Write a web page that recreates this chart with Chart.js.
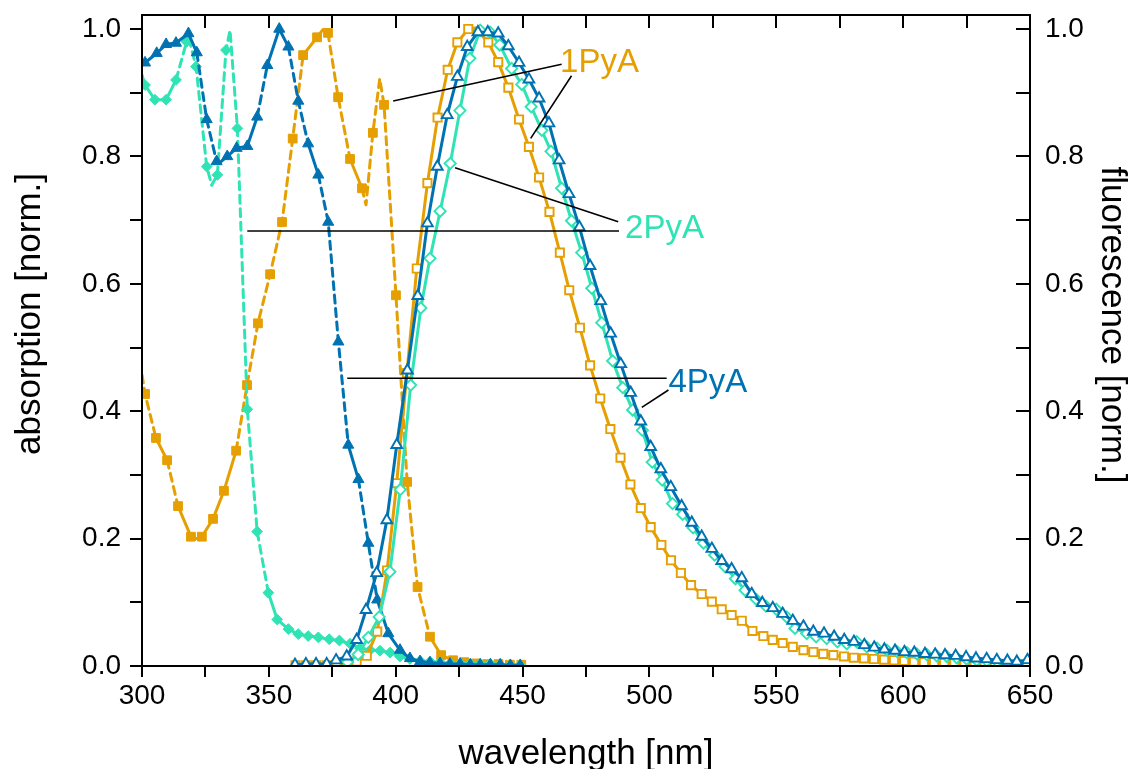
<!DOCTYPE html>
<html><head><meta charset="utf-8">
<script src="https://cdn.jsdelivr.net/npm/chart.js@4.4.1/dist/chart.umd.min.js"></script>
<style>html,body{margin:0;padding:0;background:#fff;overflow:hidden}</style>
</head><body>
<canvas id="c" width="1131" height="769"></canvas>
<script>
// ---------- data ----------
// 1PyA absorption (filled squares, marker points)
const abs1X = [301.2,305.5,309.9,314.2,319.3,323.6,328.0,332.3,337.1,341.4,345.7,350.5,355.2,359.4,363.5,369.0,373.3,377.3,382.0,386.7,391.0,395.4,400.1,404.5,408.6,413.5,417.9,422.6,427.0,431.5,436.0,440.5,445.0,449.5];
const abs1Y = [0.427,0.358,0.323,0.251,0.203,0.203,0.231,0.275,0.338,0.441,0.538,0.615,0.697,0.828,0.959,0.987,0.994,0.893,0.796,0.750,0.837,0.881,0.582,0.289,0.124,0.046,0.017,0.009,0.006,0.004,0.003,0.003,0.002,0.002];
// extra line points (no marker) at curve ends / extrema
const abs1ExX = [300.0,321.5,371.3,388.3,393.7];
const abs1ExY = [0.457,0.200,0.999,0.724,0.922];

// 2PyA absorption (filled diamonds)
const abs2X = [301.2,305.1,309.5,313.4,317.6,321.3,325.5,329.7,333.1,337.6,341.5,345.4,349.8,353.3,357.7,361.6,365.5,369.5,373.8,377.8,382.0,385.9,389.9,393.8,397.8,401.7,405.6,409.6,413.5,417.5,421.4,425.4,429.4,433.3,437.3,441.2,445.2,449.1];
const abs2Y = [0.912,0.889,0.889,0.920,0.980,0.941,0.784,0.771,0.967,0.844,0.403,0.211,0.115,0.073,0.058,0.050,0.047,0.045,0.042,0.040,0.035,0.028,0.025,0.024,0.021,0.015,0.011,0.008,0.007,0.006,0.004,0.004,0.003,0.003,0.003,0.002,0.002,0.002];
const abs2ExX = [300.0,318.5,327.5,334.7];
const abs2ExY = [0.928,0.985,0.755,0.998];

// 4PyA absorption (filled triangles)
const abs4X = [301.2,305.8,309.5,313.4,318.3,321.6,325.5,329.4,333.6,337.3,341.5,345.4,349.4,354.1,357.7,361.6,365.5,369.5,373.4,377.4,381.3,385.3,389.2,392.7,397.1,401.7,405.6,409.6,413.5,417.5,421.4,425.4,429.4,433.3,437.3,441.2,445.2,449.1];
const abs4Y = [0.947,0.962,0.976,0.978,0.993,0.963,0.858,0.792,0.800,0.813,0.816,0.862,0.943,1.000,0.972,0.887,0.820,0.771,0.697,0.509,0.347,0.293,0.193,0.104,0.051,0.025,0.012,0.007,0.005,0.004,0.003,0.003,0.002,0.002,0.002,0.002,0.001,0.001];
const abs4ExX = [300.0,330.3];
const abs4ExY = [0.945,0.789];

// 1PyA fluorescence (open squares)
const em1X = [360.5,364.6,368.6,372.7,376.7,380.4,384.6,388.6,392.7,396.6,400.4,404.4,408.3,412.5,416.5,420.5,424.3,428.6,432.5,436.5,440.4,444.4,448.6,452.5,456.5,460.6,464.7,468.4,472.6,476.6,480.6,484.6,488.6,492.5,496.6,500.5,504.7,508.5,512.4,516.4,520.6,524.6,528.5,532.4,536.4,540.6,544.9,548.6,552.5,556.5,560.7,564.6,568.5,572.5,576.7,580.6,584.6,588.5,592.5,596.4,600.4,604.3,608.2,612.2,616.2,620.2,624.2,628.2,632.2,636.2,640.2,644.2,648.2];
const em1Y = [0.001,0.001,0.001,0.001,0.001,0.002,0.007,0.016,0.054,0.150,0.287,0.460,0.624,0.758,0.861,0.936,0.979,1.000,0.996,0.979,0.948,0.908,0.858,0.815,0.767,0.713,0.649,0.590,0.531,0.472,0.420,0.372,0.327,0.285,0.248,0.218,0.190,0.166,0.146,0.127,0.113,0.101,0.089,0.080,0.071,0.055,0.047,0.041,0.036,0.030,0.025,0.022,0.019,0.017,0.015,0.013,0.012,0.011,0.010,0.009,0.008,0.007,0.006,0.006,0.005,0.005,0.004,0.004,0.004,0.003,0.003,0.003,0.002];

// 2PyA fluorescence (open diamonds)
const em2X = [381.0,385.2,389.2,393.5,397.7,401.8,405.9,409.9,413.5,417.5,421.5,425.3,429.2,433.3,437.2,441.0,445.7,449.7,453.4,457.6,461.2,465.4,469.3,473.3,477.3,481.2,485.5,489.5,493.4,497.2,501.1,505.0,509.1,513.1,517.2,521.3,525.7,529.8,533.9,537.7,542.0,545.9,550.0,554.1,557.4,562.0,565.7,569.9,574.1,577.8,581.7,585.7,589.7,593.6,597.5,601.5,605.4,609.3,613.2,617.2,621.1,625.0,629.0,633.0,637.0,641.0,645.0,649.0];
const em2Y = [0.006,0.018,0.045,0.077,0.148,0.277,0.441,0.562,0.640,0.714,0.789,0.872,0.954,0.998,0.995,0.975,0.938,0.913,0.878,0.841,0.808,0.750,0.699,0.649,0.593,0.539,0.479,0.437,0.402,0.370,0.320,0.292,0.255,0.238,0.217,0.193,0.174,0.156,0.137,0.119,0.105,0.094,0.089,0.077,0.059,0.051,0.046,0.043,0.038,0.035,0.038,0.030,0.028,0.025,0.023,0.021,0.019,0.018,0.016,0.015,0.013,0.011,0.009,0.008,0.007,0.006,0.005,0.004];

// 4PyA fluorescence (open triangles)
const em4X = [360.3,364.6,368.6,372.8,376.5,380.7,384.6,388.3,392.5,396.5,400.4,404.6,408.7,412.5,416.4,420.3,424.3,428.2,432.4,436.3,440.4,444.4,448.6,452.5,456.5,460.4,464.4,468.3,472.4,476.6,480.8,484.7,488.7,492.6,496.6,500.5,504.5,508.4,512.7,516.7,520.6,524.6,528.5,532.4,536.4,540.3,544.5,548.6,552.5,556.5,560.7,564.6,568.8,572.8,576.8,580.6,584.7,588.6,592.6,596.8,600.5,604.4,608.6,612.6,616.5,620.7,624.8,628.7,632.9,636.9,641.1,644.8,649.0];
const em4Y = [0.002,0.003,0.003,0.003,0.009,0.015,0.041,0.088,0.146,0.229,0.347,0.464,0.581,0.695,0.784,0.865,0.925,0.972,0.995,0.995,0.993,0.973,0.947,0.921,0.891,0.852,0.794,0.741,0.689,0.628,0.573,0.522,0.474,0.429,0.384,0.344,0.309,0.281,0.251,0.225,0.203,0.184,0.165,0.152,0.138,0.113,0.099,0.091,0.082,0.071,0.062,0.054,0.051,0.046,0.041,0.038,0.033,0.029,0.026,0.024,0.022,0.021,0.019,0.018,0.017,0.016,0.014,0.012,0.011,0.0094,0.0084,0.0068,0.0094];

// axis ticks and labels
const xTickValues = [300,350,400,450,500,550,600,650];
const xTickLabels = ['300','350','400','450','500','550','600','650'];
const xTickMarks = [300,325,350,375,400,425,450,475,500,525,550,575,600,625,650];
const yTickValues = [0,0.2,0.4,0.6,0.8,1.0];
const yTickLabels = ['0.0','0.2','0.4','0.6','0.8','1.0'];
const yTickMarks = [0,0.1,0.2,0.3,0.4,0.5,0.6,0.7,0.8,0.9,1.0];

const xTitle = 'wavelength [nm]';
const yTitleLeft = 'absorption [norm.]';
const yTitleRight = 'fluorescence [norm.]';

// series labels and their leader lines (in data units)
const seriesNames = ['1PyA','2PyA','4PyA'];
const nameX = [464.8, 490.4, 507.5];
const nameY = [0.9325, 0.6719, 0.4306];
const leaders = [
  [465.4,0.9446,399.0,0.887],
  [469.3,0.9267,453.2,0.8284],
  [487.7,0.6975,423.4,0.7823],
  [341.5,0.6829,488.0,0.6829],
  [380.9,0.4517,506.8,0.4517],
  [507.5,0.4333,497.0,0.4061]
];

// ---------- styling ----------
const ORANGE = '#E69F00', BLUE = '#0072B2', CYAN = '#30E3B4';
const nameColors = [ORANGE, CYAN, BLUE];
const FONT = '"Liberation Sans", Arial, Helvetica, sans-serif';

function pts(xs, ys) { return xs.map((x, i) => ({x: x, y: ys[i]})); }
function merged(xs, ys, ex, ey) { return pts(xs, ys).concat(pts(ex, ey)).sort((a, b) => a.x - b.x); }

// steep segments look dashed, flat ones solid (as in the reference)
const dashSeg = ctx => {
  const dx = Math.abs(ctx.p1.x - ctx.p0.x), dy = Math.abs(ctx.p1.y - ctx.p0.y);
  return dy > 3.5 * dx ? [8, 5.5] : undefined;
};

function absLine(data, color, order) {
  return {data: data, borderColor: color, borderWidth: 3, pointRadius: 0, showLine: true,
          borderDash: [], borderCapStyle: 'round', borderJoinStyle: 'round',
          segment: {borderDash: dashSeg}, order: order, fill: false};
}
function absMarks(data, color, style, r, order) {
  return {data: data, showLine: false, pointStyle: style, pointRadius: r,
          pointBackgroundColor: color, pointBorderColor: color, pointBorderWidth: 1, order: order};
}
function emLine(data, color, style, r, order) {
  return {data: data, borderColor: color, borderWidth: 3, showLine: true, pointStyle: style,
          borderJoinStyle: 'round',
          pointRadius: r, pointBackgroundColor: '#fff', pointBorderColor: color, pointBorderWidth: 1.9,
          order: order, fill: false};
}

const datasets = [
  absLine(merged(abs1X, abs1Y, abs1ExX, abs1ExY), ORANGE, 20),
  absMarks(pts(abs1X, abs1Y), ORANGE, 'rect', 6.2, 19),
  absLine(merged(abs2X, abs2Y, abs2ExX, abs2ExY), CYAN, 18),
  absMarks(pts(abs2X, abs2Y), CYAN, 'rectRot', 5.4, 17),
  absLine(merged(abs4X, abs4Y, abs4ExX, abs4ExY), BLUE, 16),
  absMarks(pts(abs4X, abs4Y), BLUE, 'triangle', 6.4, 15),
  emLine(pts(em1X, em1Y), ORANGE, 'rect', 5.8, 3),
  emLine(pts(em2X, em2Y), CYAN, 'rectRot', 5.6, 2),
  emLine(pts(em4X, em4Y), BLUE, 'triangle', 6.2, 1)
];

const deco = {
  id: 'deco',
  afterDatasetsDraw(chart) {
    const {ctx, scales: {x, y}} = chart;
    ctx.save();
    ctx.strokeStyle = '#000'; ctx.lineWidth = 1.6;
    leaders.forEach(l => {
      ctx.beginPath();
      ctx.moveTo(x.getPixelForValue(l[0]), y.getPixelForValue(l[1]));
      ctx.lineTo(x.getPixelForValue(l[2]), y.getPixelForValue(l[3]));
      ctx.stroke();
    });
    ctx.font = '33px ' + FONT; ctx.textAlign = 'left'; ctx.textBaseline = 'alphabetic';
    seriesNames.forEach((n, i) => {
      ctx.fillStyle = nameColors[i];
      ctx.fillText(n, x.getPixelForValue(nameX[i]), y.getPixelForValue(nameY[i]));
    });
    ctx.restore();
  },
  afterDraw(chart) {
    const {ctx, chartArea: a, scales: {x, y}} = chart;
    ctx.save();
    ctx.strokeStyle = '#000'; ctx.lineWidth = 2;
    ctx.strokeRect(a.left, a.top, a.right - a.left, a.bottom - a.top);
    ctx.beginPath();
    xTickMarks.forEach(v => {
      const px = Math.round(x.getPixelForValue(v));
      ctx.moveTo(px, a.bottom); ctx.lineTo(px, a.bottom + 11);
      ctx.moveTo(px, a.top); ctx.lineTo(px, a.top + 13);
    });
    yTickMarks.forEach(v => {
      const py = Math.round(y.getPixelForValue(v));
      ctx.moveTo(a.left - 12, py); ctx.lineTo(a.left, py);
      ctx.moveTo(a.right - 14, py); ctx.lineTo(a.right, py);
    });
    ctx.stroke();
    ctx.fillStyle = '#000';
    ctx.font = '35px ' + FONT;
    ctx.textAlign = 'center'; ctx.textBaseline = 'alphabetic';
    ctx.fillText(xTitle, (a.left + a.right) / 2, 764);
    ctx.save();
    ctx.translate(40, 314); ctx.rotate(-Math.PI / 2);
    ctx.fillText(yTitleLeft, 0, 0);
    ctx.restore();
    ctx.save();
    ctx.translate(1102, 325); ctx.rotate(Math.PI / 2);
    ctx.fillText(yTitleRight, 0, 0);
    ctx.restore();
    ctx.restore();
  }
};

const tickFont = {size: 28, family: FONT};
const zeroPad = s => { s.paddingTop = 0; s.paddingBottom = 0; s.paddingLeft = 0; s.paddingRight = 0; };

new Chart(document.getElementById('c'), {
  type: 'scatter',
  data: {datasets: datasets},
  options: {
    responsive: false, animation: false, devicePixelRatio: 1, events: [],
    layout: {padding: {top: 15, left: 0, right: 0, bottom: 0}},
    plugins: {legend: {display: false}, tooltip: {enabled: false}},
    scales: {
      x: {type: 'linear', position: 'bottom', min: 300, max: 650,
          afterBuildTicks: s => { s.ticks = xTickValues.map(v => ({value: v})); },
          ticks: {callback: (v, i) => xTickLabels[i], font: tickFont, color: '#000', padding: 13, maxRotation: 0, autoSkip: false},
          grid: {display: false, drawTicks: false}, border: {display: false},
          afterFit: s => { s.height = 103; zeroPad(s); }},
      y: {type: 'linear', position: 'left', min: 0, max: 1.022,
          afterBuildTicks: s => { s.ticks = yTickValues.map(v => ({value: v})); },
          ticks: {callback: (v, i) => yTickLabels[i], font: tickFont, color: '#000', padding: 21, autoSkip: false},
          grid: {display: false, drawTicks: false}, border: {display: false},
          afterFit: s => { s.width = 142; zeroPad(s); }},
      y2: {type: 'linear', position: 'right', min: 0, max: 1.022,
          afterBuildTicks: s => { s.ticks = yTickValues.map(v => ({value: v})); },
          ticks: {callback: (v, i) => yTickLabels[i], font: tickFont, color: '#000', padding: 15, autoSkip: false},
          grid: {display: false, drawTicks: false}, border: {display: false},
          afterFit: s => { s.width = 101; zeroPad(s); }}
    }
  },
  plugins: [deco]
});
</script>
</body></html>
